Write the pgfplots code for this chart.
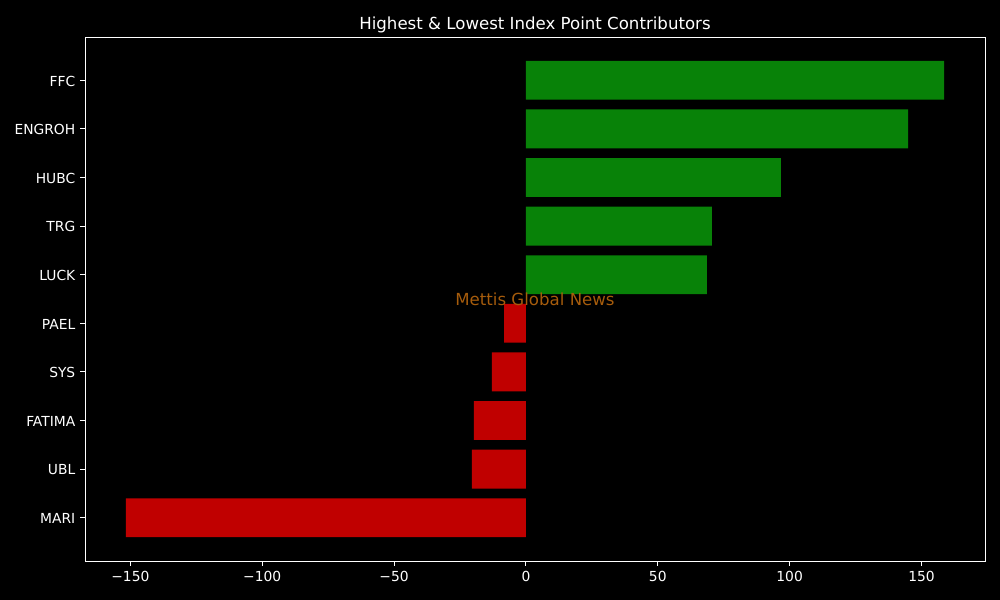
\documentclass[border=0pt]{standalone}
\usepackage{fontspec}
\setmainfont{DejaVu Sans}
\usepackage{pgfplots}
\pgfplotsset{compat=1.18}
\definecolor{posgreen}{RGB}{8,130,8}
\definecolor{negred}{RGB}{192,0,0}
\definecolor{wmark}{RGB}{166,92,12}

\begin{document}
\begin{tikzpicture}
\fill[black] (0,0) rectangle (10in,6in);
\begin{axis}[
    at={(0.85in,0.39in)}, anchor=south west,
    scale only axis, width=9in, height=5.24in,
    xmin=-167.2, xmax=174.1, ymin=-0.89, ymax=9.89,
    ytick={0,...,9},
    yticklabels={MARI,UBL,FATIMA,SYS,PAEL,LUCK,TRG,HUBC,ENGROH,FFC},
    xtick={-150,-100,-50,0,50,100,150},
    xticklabels={−150,−100,−50,0,50,100,150},
    axis line style={white, line width=0.7pt},
    every tick/.style={white, line width=0.7pt},
    major tick length=3.5pt,
    tick align=outside, xtick pos=bottom, ytick pos=left,
    ticklabel style={white, font=\fontsize{10}{12}\selectfont},
    yticklabel style={yshift=-0.6pt},
    clip=false,
    xbar, bar width=0.8, bar shift=0pt,
]
    % positive contributors
    \addplot[fill=posgreen, draw=none] coordinates {
        (158.6,9) (144.9,8) (96.7,7) (70.5,6) (68.6,5)
    };
    % negative contributors
    \addplot[fill=negred, draw=none] coordinates {
        (-8.3,4) (-12.9,3) (-19.7,2) (-20.5,1) (-151.7,0)
    };
    \node[text=white, font=\fontsize{12}{14}\selectfont, anchor=base]
        at (rel axis cs:0.5,1) [yshift=5.5pt] {Highest \& Lowest Index Point Contributors};
    \node[text=wmark, font=\fontsize{12}{14}\selectfont]
        at (rel axis cs:0.5,0.5) {Mettis Global News};
\end{axis}
\end{tikzpicture}
\end{document}
